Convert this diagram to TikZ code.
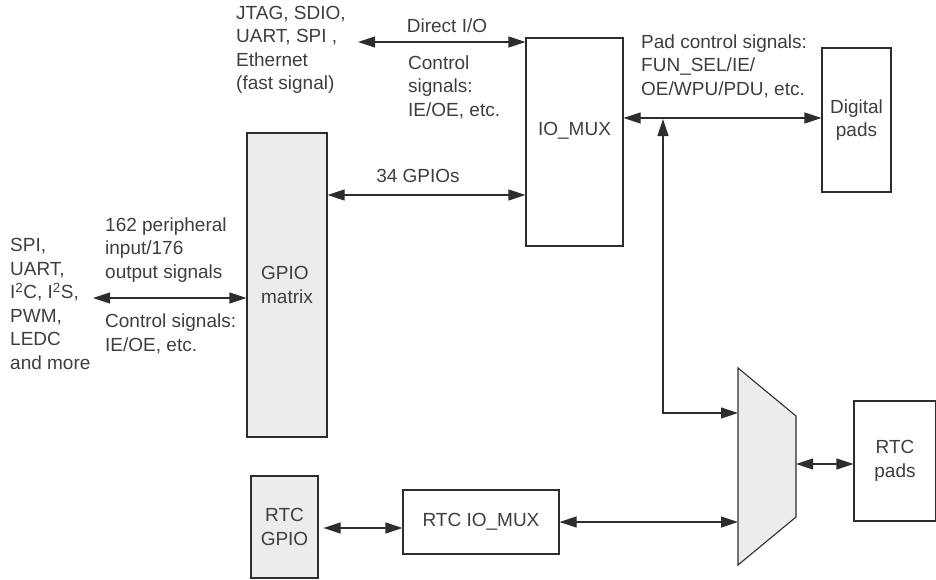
\documentclass[tikz,border=0pt]{standalone}
\usepackage{fontspec}
\setmainfont{Liberation Sans}
\usetikzlibrary{arrows.meta,calc}
\definecolor{figK}{RGB}{45,45,45}
\definecolor{figG}{RGB}{236,236,236}
\definecolor{figT}{RGB}{62,62,62}

\begin{document}
\begin{tikzpicture}[x=1pt,y=-1pt,
  every node/.style={font=\fontsize{19}{23.5}\selectfont},
  box/.style={draw=figK,line width=1.1pt,inner sep=0pt,align=center,text=figT},
  gbox/.style={box,fill=figG},
  lbl/.style={text=figT,inner sep=0pt,align=left,anchor=west},
  dbl/.style={{Triangle[length=17pt,width=11pt]}-{Triangle[length=17pt,width=11pt]},line width=1.1pt,figK}]
\useasboundingbox (0,0) rectangle (936,579);
% blocks
\node[box,minimum width=97pt,minimum height=208pt,label={[text=figT,yshift=11pt]center:IO\_MUX}] (iomux) at (574.5,142) {};
\node[gbox,minimum width=80pt,minimum height=304pt,align=left] (gpiom) at (287,285) {GPIO\\matrix};
\node[box,minimum width=69pt,minimum height=144pt] (dpads) at (856.5,120) {Digital\\pads};
\node[gbox,minimum width=67pt,minimum height=102pt] (rtcgpio) at (284.5,527) {RTC\\GPIO};
\node[box,minimum width=156pt,minimum height=64pt] (rtcmux) at (481,522) {RTC IO\_MUX};
\node[box,minimum width=82pt,minimum height=120pt] (rtcpads) at (895,461) {RTC\\pads};
\draw[fill=figG,draw=figK,line width=1.1pt] (738,368) -- (796,416) -- (796,517) -- (738,565) -- cycle;
\coordinate (muxin1) at (738,413);
\coordinate (muxin2) at (738,522);
\coordinate (muxout) at (796,464);
\coordinate (fastend) at (358,42);
\coordinate (periphend) at (93,298);
\coordinate (tap) at (663,118);
% labels
\node[lbl] (fastsig) at (236,50) {JTAG, SDIO,\\UART, SPI ,\\Ethernet\\(fast signal)};
\node[text=figT,inner sep=0pt] (directio) at (447,26) {Direct I/O};
\node[lbl] (ctrlfast) at (408,87) {Control\\signals:\\IE/OE, etc.};
\node[text=figT,inner sep=0pt] (gpios) at (418,176) {34 GPIOs};
\node[lbl] (padctrl) at (641,66) {Pad control signals:\\FUN\_SEL/IE/\\OE/WPU/PDU, etc.};
\node[lbl] (periph) at (10,304) {SPI,\\UART,\\I\textsuperscript{2}C, I\textsuperscript{2}S,\\PWM,\\LEDC\\and more};
\node[lbl] (sigcount) at (105,250) {162 peripheral\\input/176\\output signals};
\node[lbl] (ctrlperiph) at (105,334) {Control signals:\\IE/OE, etc.};
% connectors
\draw[dbl] (fastend) -- (fastend -| iomux.west);
\draw[dbl] (gpiom.east |- 0,195) -- (iomux.west |- 0,195);
\draw[dbl] (periphend) -- (periphend -| gpiom.west);
\draw[dbl] (iomux.east |- tap) -- (dpads.west |- tap);
\draw[dbl] ($(tap)+(0,1)$) |- (muxin1);
\draw[dbl] (rtcmux.east) -- (muxin2);
\draw[dbl] (muxout) -- (muxout -| rtcpads.west);
\draw[dbl,shorten <=5pt] (rtcgpio.east |- 0,528) -- (rtcmux.west |- 0,528);
\end{tikzpicture}
\end{document}
